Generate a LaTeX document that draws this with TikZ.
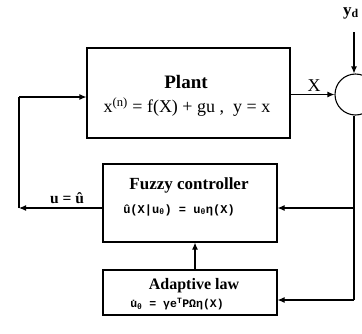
\documentclass[tikz,border=0pt]{standalone}
\usepackage{fontspec}
\setmainfont{Liberation Serif}
\newfontfamily\monofnt{Liberation Mono}
\usetikzlibrary{arrows.meta}
\begin{document}
\begin{tikzpicture}[x=1pt,y=-1pt,
  blk/.style={draw,line width=1.1pt,inner sep=0pt},
  ttl/.style={font=\fontsize{17}{19}\selectfont\bfseries,inner sep=0pt},
  eqm/.style={font=\fontsize{12}{14}\selectfont\monofnt\bfseries,inner sep=0pt},
  con/.style={line width=1.1pt},
  arr/.style={con,-{Latex[length=7pt,width=6pt]}}]
\useasboundingbox (0,0) rectangle (362,333);
\clip (0,0) rectangle (362,333);
\node[blk,minimum width=203pt,minimum height=90pt] (pl) at (188.5,93) {};
\node[ttl,font=\fontsize{19}{21}\selectfont\bfseries] (plt) at (186,82) {Plant};
\node[inner sep=0pt,font=\fontsize{18}{20}\selectfont] (ple) at (187,107)
  {x\textsuperscript{(n)} = f(X) + gu ,\ \ y = x};
\node[blk,minimum width=174pt,minimum height=78pt] (fz) at (190,203) {};
\node[ttl] (fzt) at (189,185) {Fuzzy controller};
\node[eqm] (fze) at (179,210) {\^{u}(X|u\textsubscript{θ}) = u\textsubscript{θ}η(X)};
\node[blk,minimum width=174pt,minimum height=45pt] (ad) at (190,292.5) {};
\node[ttl,font=\fontsize{16}{18}\selectfont\bfseries] (adt) at (194,286) {Adaptive law};
\node[eqm,font=\fontsize{11.5}{13}\selectfont\monofnt\bfseries] (ade) at (177,304)
  {\.{u}\textsubscript{θ} = γe\textsuperscript{T}PΩη(X)};
\node[draw,circle,line width=1.1pt,minimum size=41pt,inner sep=0pt] (sum) at (355.5,94.5) {};
\node[font=\fontsize{17}{19}\selectfont\bfseries] (yd) at (351,13) {y\textsubscript{d}};
\node[font=\fontsize{18}{20}\selectfont] (xl) at (314,86) {X};
\node[font=\fontsize{15.5}{18}\selectfont\bfseries] (ul) at (67,198) {u = \^{u}};
\coordinate (yt) at (354,32);
\coordinate (L) at (19,208);
\coordinate (L2) at (19,97);
\coordinate (R) at (354,300);
\draw[arr] (yt) -- (yt |- sum.north);
\draw[arr] (pl.east |- sum.west) -- (sum.west);
\draw[arr] (fz.west |- L) -- (L);
\draw[con] (L) -- (L2);
\draw[arr] (L2) -- (pl.west |- L2);
\draw[con] (R |- sum.south) -- (R);
\draw[arr] (R |- L) -- (fz.east |- L);
\draw[arr] (R) -- (ad.east |- R);
\draw[arr] (ad.north -| 195,0) -- (fz.south -| 195,0);
\end{tikzpicture}
\end{document}
